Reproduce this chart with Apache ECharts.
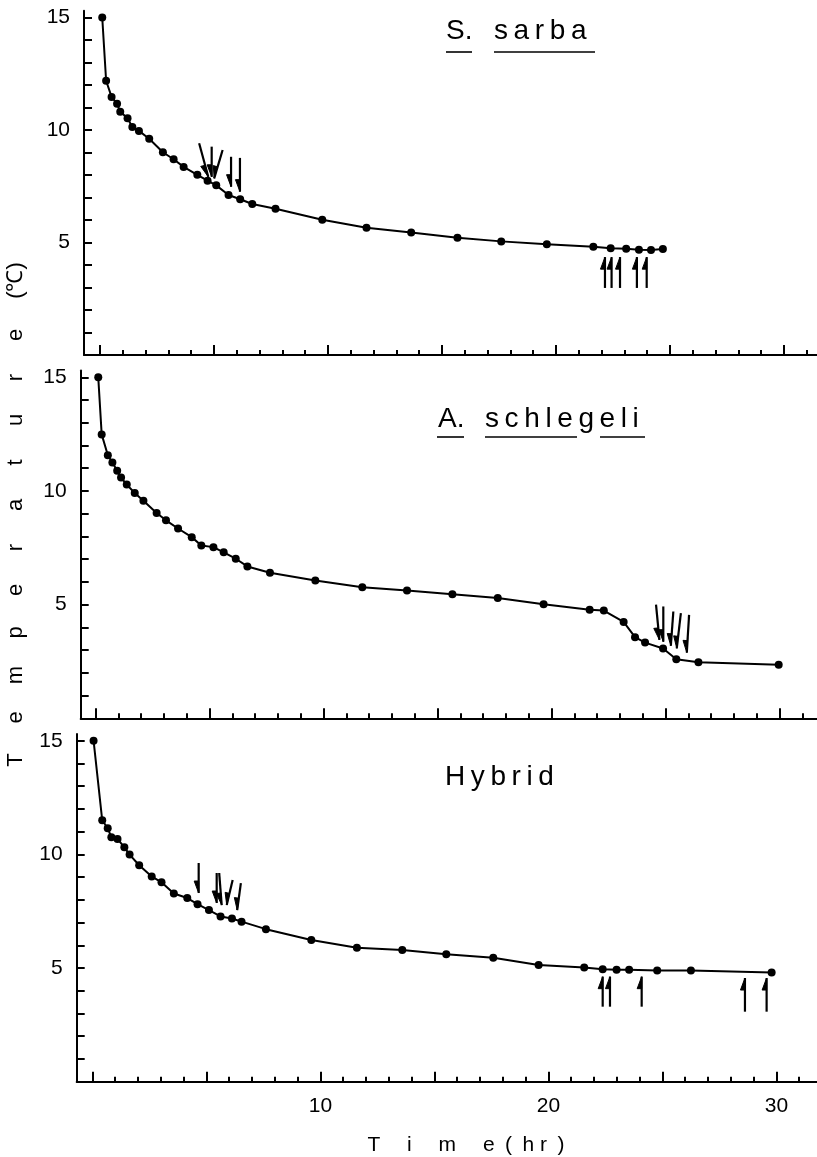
<!DOCTYPE html>
<html>
<head>
<meta charset="utf-8">
<title>Temperature - Time</title>
<script src="https://cdn.jsdelivr.net/npm/echarts@6/dist/echarts.min.js"></script>
<style>
  html, body { margin:0; padding:0; background:#fff; }
  #chart { width:817px; height:1157px; }
</style>
</head>
<body>
<div id="chart"></div>
<script type="text/javascript">
// ---- data ----
var sarbaTime = [0.1, 0.27, 0.51, 0.75, 0.89, 1.21, 1.42, 1.71, 2.16, 2.76, 3.23, 3.67, 4.27, 4.72, 5.10, 5.64, 6.15, 6.68, 7.70, 9.75, 11.69, 13.65, 15.68, 17.6, 19.6, 21.64, 22.4, 23.08, 23.64, 24.17, 24.69];
var sarbaTemp = [15.0, 12.19, 11.47, 11.17, 10.81, 10.52, 10.13, 9.96, 9.61, 9.01, 8.70, 8.36, 8.01, 7.75, 7.54, 7.11, 6.92, 6.71, 6.50, 6.01, 5.66, 5.44, 5.21, 5.05, 4.92, 4.81, 4.74, 4.72, 4.68, 4.67, 4.71];

var schlegeliTime = [0.12, 0.27, 0.54, 0.74, 0.95, 1.12, 1.37, 1.72, 2.1, 2.68, 3.09, 3.62, 4.22, 4.64, 5.17, 5.62, 6.15, 6.66, 7.65, 9.64, 11.7, 13.66, 15.65, 17.64, 19.65, 21.67, 22.29, 23.16, 23.66, 24.1, 24.89, 25.47, 26.44, 29.96];
var schlegeliTemp = [15.0, 12.49, 11.57, 11.25, 10.89, 10.59, 10.28, 9.91, 9.57, 9.03, 8.71, 8.35, 7.97, 7.60, 7.53, 7.30, 7.02, 6.68, 6.40, 6.06, 5.77, 5.62, 5.46, 5.29, 5.02, 4.78, 4.74, 4.24, 3.57, 3.33, 3.07, 2.60, 2.47, 2.36];

var hybridTime = [0.05, 0.43, 0.67, 0.83, 1.10, 1.40, 1.63, 2.05, 2.6, 3.03, 3.57, 4.16, 4.61, 5.11, 5.62, 6.12, 6.54, 7.61, 9.6, 11.6, 13.59, 15.52, 17.58, 19.57, 21.57, 22.38, 22.99, 23.54, 24.77, 26.25, 29.79];
var hybridTemp = [15.0, 11.50, 11.15, 10.75, 10.68, 10.31, 9.99, 9.52, 9.03, 8.77, 8.28, 8.08, 7.81, 7.55, 7.27, 7.18, 7.04, 6.71, 6.23, 5.89, 5.79, 5.61, 5.45, 5.13, 5.02, 4.95, 4.93, 4.93, 4.89, 4.89, 4.80];

// arrows: [tail time, tail temp, tip time, tip temp]
var sarbaArrows = [[4.35, 9.41, 4.75, 7.92], [4.90, 9.26, 4.90, 7.92], [5.38, 9.11, 5.01, 7.85], [5.75, 8.81, 5.75, 7.48], [6.14, 8.76, 6.14, 7.26],
                   [22.15, 2.98, 22.15, 4.35], [22.44, 2.98, 22.44, 4.35], [22.81, 2.98, 22.81, 4.35], [23.55, 2.98, 23.55, 4.35], [23.98, 2.98, 23.98, 4.35]];
var schlegeliArrows = [[24.58, 5.00, 24.73, 3.45], [24.90, 4.92, 24.90, 3.37], [25.34, 4.70, 25.23, 3.19], [25.67, 4.63, 25.49, 3.08], [26.03, 4.55, 25.93, 2.89]];
var hybridArrows = [[4.66, 9.62, 4.66, 8.30], [5.45, 9.18, 5.45, 7.86], [5.56, 9.18, 5.67, 7.77], [6.15, 8.87, 5.89, 7.77], [6.51, 8.74, 6.35, 7.55],
                    [22.38, 3.30, 22.38, 4.62], [22.70, 3.30, 22.70, 4.62], [24.09, 3.30, 24.09, 4.62], [28.62, 3.08, 28.62, 4.56], [29.57, 3.08, 29.57, 4.56]];

// ticks / labels
var hourTicks = [];
for (var h = 0; h <= 31; h++) hourTicks.push(h);
var hourMajor = [0, 5, 10, 15, 20, 25, 30];
var hourLabels = [10, 20, 30];
var tempTicks = [];
for (var d = 1; d <= 15; d++) tempTicks.push(d);
var tempLabels = [5, 10, 15];

var FONT = 'Liberation Sans';

function pairs(xs, ys) {
  var out = [];
  for (var i = 0; i < xs.length; i++) out.push([xs[i], ys[i]]);
  return out;
}

// arrow = shaft + half head on the left side
function renderArrow(params, api) {
  var tail = api.coord([api.value(0), api.value(1)]);
  var tip = api.coord([api.value(2), api.value(3)]);
  var dx = tip[0] - tail[0], dy = tip[1] - tail[1];
  var len = Math.sqrt(dx * dx + dy * dy);
  var ux = dx / len, uy = dy / len;
  var px, py;
  if (uy > 0) { px = -uy; py = ux; } else { px = uy; py = -ux; }
  var bx = tip[0] - ux * 12, by = tip[1] - uy * 12;
  return {
    type: 'group',
    children: [
      { type: 'line', shape: { x1: tail[0], y1: tail[1], x2: tip[0], y2: tip[1] }, style: { stroke: '#000', lineWidth: 2.2 } },
      { type: 'polygon', shape: { points: [[tip[0], tip[1]], [bx, by], [bx + px * 4.5, by + py * 4.5]] }, style: { fill: '#000', stroke: '#000', lineWidth: 1 } }
    ]
  };
}

// panel layout (pixels) and visible time range
var panels = [
  { left: 84,   top: 10.75, width: 733,   height: 344.25, min: -0.70, max: 31.45 },
  { left: 80.7, top: 370.5, width: 736.3, height: 347.8,  min: -0.65, max: 31.64 },
  { left: 76.7, top: 733.9, width: 740.3, height: 347.8,  min: -0.69, max: 31.78 }
];

var grids = [], xAxes = [], yAxes = [];
panels.forEach(function (p, i) {
  grids.push({ left: p.left, top: p.top, width: p.width, height: p.height });
  // minor ticks + axis line
  xAxes.push({
    type: 'value', gridIndex: i, min: p.min, max: p.max, position: 'bottom',
    axisLine: { show: true, onZero: false, lineStyle: { color: '#000', width: 2 } },
    axisTick: { show: true, inside: true, length: 5, customValues: hourTicks, lineStyle: { color: '#000', width: 2 } },
    axisLabel: { show: false },
    splitLine: { show: false }
  });
  // every 5 hours a longer tick, labels only on the bottom panel
  xAxes.push({
    type: 'value', gridIndex: i, min: p.min, max: p.max, position: 'bottom',
    axisLine: { show: false, onZero: false },
    axisTick: { show: true, inside: true, length: 10, customValues: hourMajor, lineStyle: { color: '#000', width: 2 } },
    axisLabel: { show: i === 2, customValues: hourLabels, margin: 14, color: '#000', fontSize: 21, fontFamily: FONT },
    splitLine: { show: false }
  });
  yAxes.push({
    type: 'value', gridIndex: i, min: 0, max: 15.3, position: 'left',
    axisLine: { show: true, onZero: false, lineStyle: { color: '#000', width: 2 } },
    axisTick: { show: true, inside: true, length: 8, customValues: tempTicks, lineStyle: { color: '#000', width: 2 } },
    axisLabel: { show: true, customValues: tempLabels, margin: 14, color: '#000', fontSize: 21, fontFamily: FONT },
    splitLine: { show: false }
  });
});

function lineSeries(idx, xs, ys) {
  return {
    type: 'line', xAxisIndex: idx * 2, yAxisIndex: idx,
    data: pairs(xs, ys),
    symbol: 'circle', symbolSize: 8, showAllSymbol: true,
    lineStyle: { color: '#000', width: 2 },
    itemStyle: { color: '#000' },
    animation: false
  };
}
function arrowSeries(idx, arr) {
  return {
    type: 'custom', xAxisIndex: idx * 2, yAxisIndex: idx,
    data: arr, renderItem: renderArrow, clip: false,
    encode: { x: [0, 2], y: [1, 3] },
    animation: false
  };
}

// y axis name, one letter at a time, rotated
var yLetters = ['T', 'e', 'm', 'p', 'e', 'r', 'a', 't', 'u', 'r', 'e', '(℃)'];
var graphics = [];
yLetters.forEach(function (ch, i) {
  graphics.push({
    type: 'text', x: 16, y: 760 - i * 42.5 - (i === 11 ? 12 : 0), rotation: Math.PI / 2,
    style: { text: ch, fill: '#000', font: '22px "' + FONT + '"', textAlign: 'center', textVerticalAlign: 'middle' }
  });
});
graphics.push({
  type: 'text', x: 466, y: 1145,
  style: { text: 'T\u2003 i\u2003 m\u2003 e\u2002(\u2002h r\u2002)', fill: '#000', font: '21px "' + FONT + '"', textAlign: 'center', textVerticalAlign: 'middle' }
});

// panel titles (underlined species names)
var titleFont = '28px "' + FONT + '"';
function titleText(x, y, s) {
  return { type: 'text', x: x, y: y, style: { text: s, fill: '#000', font: titleFont, textAlign: 'left', textVerticalAlign: 'middle' } };
}
function underline(x1, x2, y) {
  return { type: 'line', shape: { x1: x1, y1: y, x2: x2, y2: y }, style: { stroke: '#000', lineWidth: 1.6 } };
}
var TS = '\u2009';
graphics.push(titleText(446, 31, 'S.'));
graphics.push(titleText(494, 31, ['s', 'a', 'r', 'b', 'a'].join(TS)));
graphics.push(underline(446, 472, 52));
graphics.push(underline(494, 595, 52));

graphics.push(titleText(438, 419, 'A.'));
graphics.push(titleText(485, 419, ['s', 'c', 'h', 'l', 'e', 'g', 'e', 'l', 'i'].join(TS)));
graphics.push(underline(437, 464, 437));
graphics.push(underline(485, 577, 437));
graphics.push(underline(600, 645, 437));

graphics.push(titleText(445, 777, ['H', 'y', 'b', 'r', 'i', 'd'].join(TS)));

var chart = echarts.init(document.getElementById('chart'));
chart.setOption({
  backgroundColor: '#fff',
  animation: false,
  grid: grids,
  xAxis: xAxes,
  yAxis: yAxes,
  series: [
    lineSeries(0, sarbaTime, sarbaTemp),
    arrowSeries(0, sarbaArrows),
    lineSeries(1, schlegeliTime, schlegeliTemp),
    arrowSeries(1, schlegeliArrows),
    lineSeries(2, hybridTime, hybridTemp),
    arrowSeries(2, hybridArrows)
  ],
  graphic: graphics
});
</script>
</body>
</html>
